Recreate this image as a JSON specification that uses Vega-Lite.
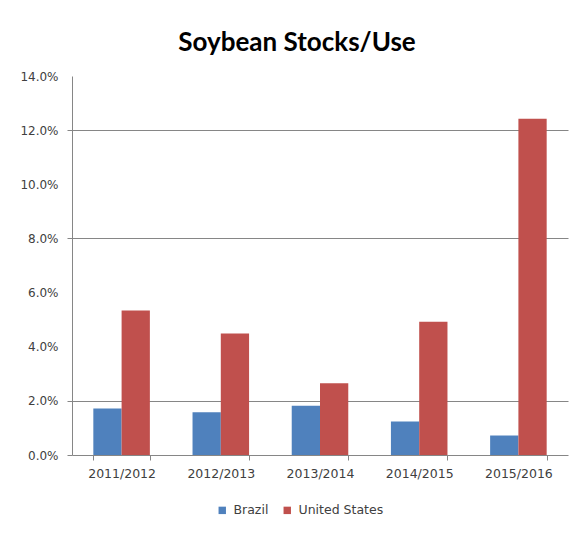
{
  "$schema": "https://vega.github.io/schema/vega-lite/v6.json",
  "width": 496,
  "height": 379,
  "autosize": "none",
  "padding": {"left": 72, "top": 76, "right": 9, "bottom": 78},
  "background": "white",
  "title": {
    "text": "Soybean Stocks/Use",
    "font": "Lato",
    "fontSize": 26,
    "fontWeight": "bold",
    "color": "#000000",
    "anchor": "middle",
    "frame": "group",
    "dx": -23,
    "offset": 14
  },
  "data": {
    "values": [
      {"year": "2011/2012", "country": "Brazil", "ratio": 0.0172},
      {"year": "2011/2012", "country": "United States", "ratio": 0.0534},
      {"year": "2012/2013", "country": "Brazil", "ratio": 0.0158},
      {"year": "2012/2013", "country": "United States", "ratio": 0.0449},
      {"year": "2013/2014", "country": "Brazil", "ratio": 0.0182},
      {"year": "2013/2014", "country": "United States", "ratio": 0.0265},
      {"year": "2014/2015", "country": "Brazil", "ratio": 0.0124},
      {"year": "2014/2015", "country": "United States", "ratio": 0.0492},
      {"year": "2015/2016", "country": "Brazil", "ratio": 0.0072},
      {"year": "2015/2016", "country": "United States", "ratio": 0.1242}
    ]
  },
  "mark": {"type": "bar"},
  "encoding": {
    "x": {
      "field": "year",
      "type": "nominal",
      "sort": null,
      "title": null,
      "scale": {"paddingInner": 0.43, "paddingOuter": 0.215},
      "axis": {
        "labelAngle": 0,
        "labelFont": "DejaVu Sans",
        "labelFontSize": 12.5,
        "labelColor": "#404040",
        "labelPadding": 7,
        "domainColor": "#868686",
        "tickColor": "#868686",
        "tickBand": "extent",
        "tickSize": 5,
        "grid": false
      }
    },
    "xOffset": {"field": "country", "type": "nominal", "sort": ["Brazil", "United States"], "scale": {"paddingInner": 0, "paddingOuter": 0}},
    "y": {
      "field": "ratio",
      "type": "quantitative",
      "title": null,
      "scale": {"domain": [0, 0.14], "nice": false},
      "axis": {
        "values": [0, 0.02, 0.04, 0.06, 0.08, 0.1, 0.12, 0.14],
        "format": ".1%",
        "labelFont": "DejaVu Sans",
        "labelFontSize": 12,
        "labelColor": "#404040",
        "labelPadding": 9,
        "domainColor": "#868686",
        "tickColor": "#868686",
        "tickSize": 5,
        "tickOpacity": {"condition": {"test": "round(datum.value*100) == 0 || round(datum.value*100) == 2 || round(datum.value*100) == 8 || round(datum.value*100) == 12", "value": 1}, "value": 0},
        "grid": true,
        "gridColor": "#868686",
        "gridWidth": 1,
        "gridOpacity": {"condition": {"test": "round(datum.value*100) == 2 || round(datum.value*100) == 8 || round(datum.value*100) == 12", "value": 1}, "value": 0}
      }
    },
    "color": {
      "field": "country",
      "type": "nominal",
      "title": null,
      "sort": ["Brazil", "United States"],
      "scale": {"domain": ["Brazil", "United States"], "range": ["#4F81BD", "#C0504D"]},
      "legend": {
        "orient": "none",
        "direction": "horizontal",
        "legendX": 144,
        "legendY": 428,
        "symbolType": "square",
        "symbolSize": 55,
        "symbolStrokeWidth": 0,
        "labelFont": "DejaVu Sans",
        "labelFontSize": 12.5,
        "labelColor": "#404040",
        "columnPadding": 12,
        "labelOffset": 5
      }
    }
  },
  "config": {
    "view": {"stroke": null}
  }
}
